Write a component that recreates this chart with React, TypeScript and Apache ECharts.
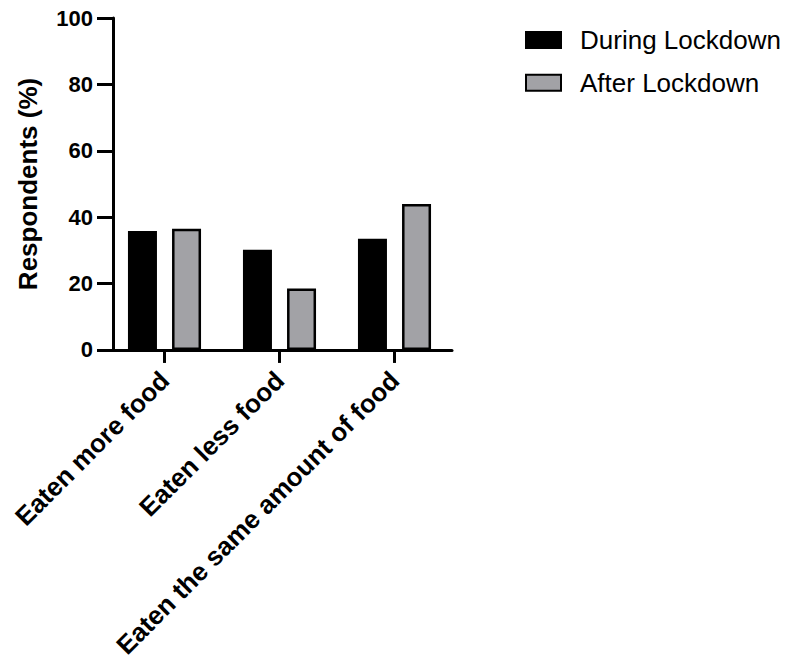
import React, { useEffect, useRef } from "react";
import * as echarts from "echarts";

const categories = ["Eaten more food", "Eaten less food", "Eaten the same amount of food"];
const duringLockdown = [35.8, 30.2, 33.5];
const afterLockdown = [36.5, 18.5, 44.0];
const seriesNames = ["During Lockdown", "After Lockdown"];

const FONT = "'Liberation Sans', Arial, Helvetica, sans-serif";

export default function App() {
  const ref = useRef<HTMLDivElement>(null);
  useEffect(() => {
    document.body.style.margin = "0";
    if (!ref.current) return;
    const chart = echarts.init(ref.current, null, { renderer: "svg" });
    chart.setOption({
      animation: false,
      backgroundColor: "#ffffff",
      textStyle: { fontFamily: FONT },
      legend: {
        orient: "vertical",
        left: 525,
        top: 27,
        padding: 0,
        icon: "rect",
        itemWidth: 35,
        itemHeight: 16,
        itemGap: 16.7,
        textStyle: {
          fontFamily: FONT,
          fontSize: 26,
          lineHeight: 26,
          color: "#000",
          padding: [0, 0, 0, 14],
        },
        data: seriesNames,
      },
      grid: { left: 107, right: 351, top: 18, bottom: 309, containLabel: false },
      xAxis: {
        type: "category",
        data: categories,
        axisLine: { show: true, lineStyle: { color: "#000", width: 3 } },
        axisTick: { show: true, alignWithLabel: true, length: 13, lineStyle: { color: "#000", width: 3 } },
        axisLabel: {
          rotate: 45,
          interval: 0,
          margin: 26,
          fontFamily: FONT,
          fontSize: 26,
          fontWeight: "bold",
          color: "#000",
        },
      },
      yAxis: {
        type: "value",
        min: 0,
        max: 100,
        interval: 20,
        offset: -6,
        name: "Respondents (%)",
        nameLocation: "middle",
        nameGap: 72,
        nameTextStyle: { fontFamily: FONT, fontSize: 26, fontWeight: "bold", color: "#000" },
        axisLine: { show: true, lineStyle: { color: "#000", width: 3 } },
        axisTick: { show: true, length: 16, lineStyle: { color: "#000", width: 3 } },
        splitLine: { show: false },
        axisLabel: {
          margin: 20,
          fontFamily: FONT,
          fontSize: 22,
          fontWeight: "bold",
          color: "#000",
        },
      },
      series: [
        {
          name: seriesNames[0],
          type: "bar",
          data: duringLockdown,
          barWidth: 29,
          barGap: "52%",
          itemStyle: { color: "#000000", borderColor: "#000", borderWidth: 2 },
        },
        {
          name: seriesNames[1],
          type: "bar",
          data: afterLockdown,
          barWidth: 29,
          barGap: "52%",
          itemStyle: { color: "#a2a2a6", borderColor: "#000", borderWidth: 2.5 },
        },
      ],
    });
    return () => chart.dispose();
  }, []);
  return <div ref={ref} style={{ width: 803, height: 661 }} />;
}
